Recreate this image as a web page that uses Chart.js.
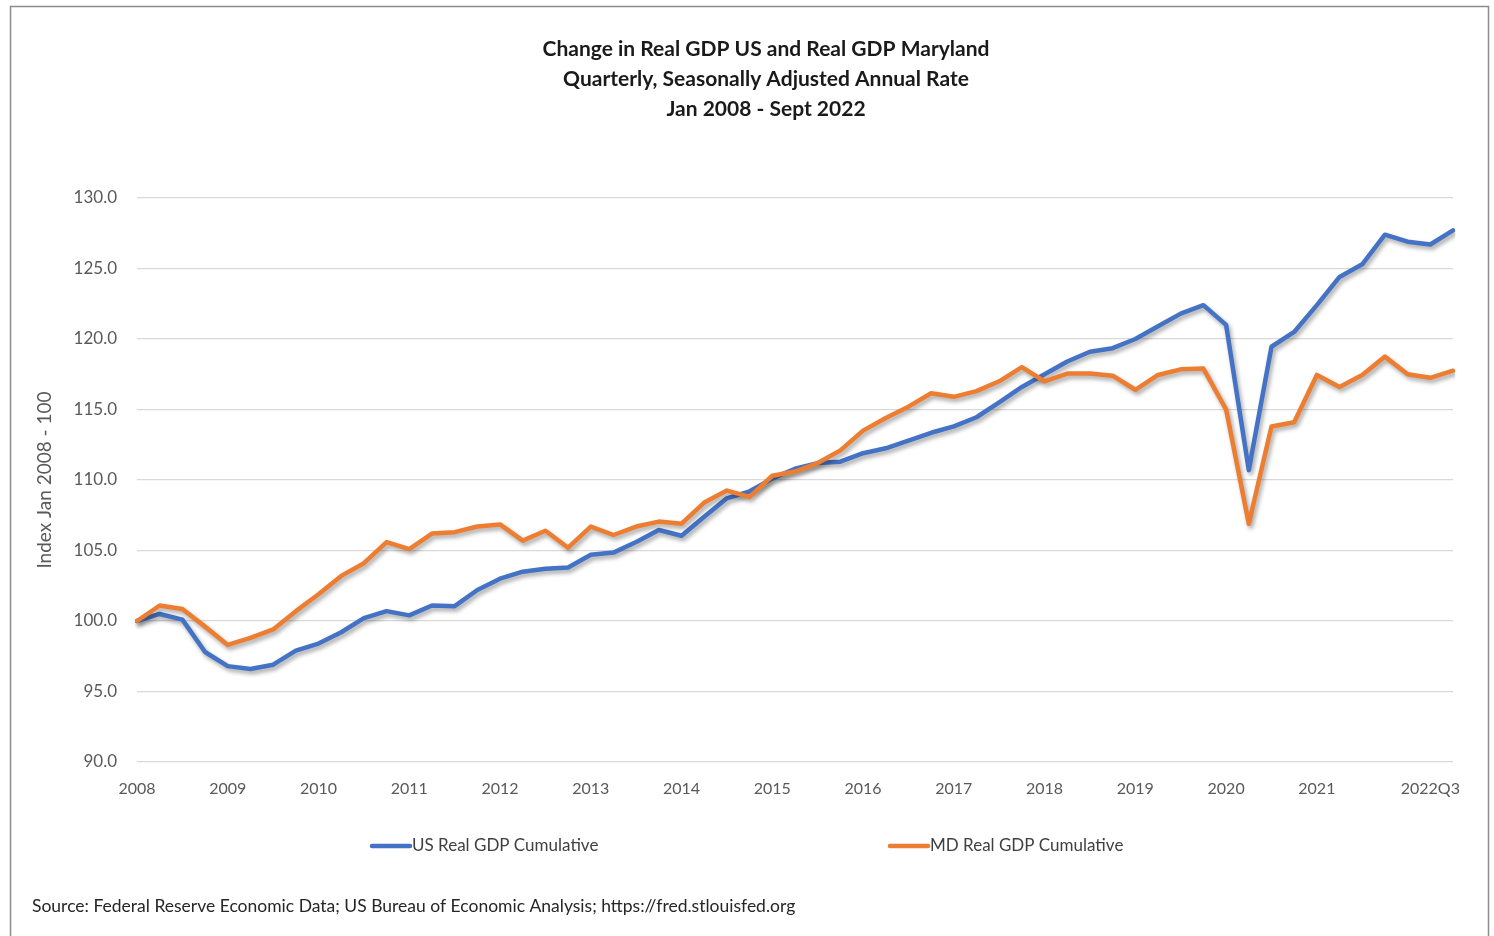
<!DOCTYPE html>
<html>
<head>
<meta charset="utf-8">
<title>Change in Real GDP US and Real GDP Maryland</title>
<script src="https://cdn.jsdelivr.net/npm/chart.js@4.4.1/dist/chart.umd.min.js"></script>
<style>
    html, body { margin: 0; padding: 0; background: #ffffff; overflow: hidden; }
    #wrap { width: 1494px; height: 936px; }
</style>
</head>
<body>
<div id="wrap"><canvas id="gdpChart" width="1494" height="936"></canvas></div>
<script>
// Quarterly categories, 2008Q1 - 2022Q3
const quarters = [
    '2008Q1', '2008Q2', '2008Q3', '2008Q4', '2009Q1', '2009Q2', '2009Q3', '2009Q4',
    '2010Q1', '2010Q2', '2010Q3', '2010Q4', '2011Q1', '2011Q2', '2011Q3', '2011Q4',
    '2012Q1', '2012Q2', '2012Q3', '2012Q4', '2013Q1', '2013Q2', '2013Q3', '2013Q4',
    '2014Q1', '2014Q2', '2014Q3', '2014Q4', '2015Q1', '2015Q2', '2015Q3', '2015Q4',
    '2016Q1', '2016Q2', '2016Q3', '2016Q4', '2017Q1', '2017Q2', '2017Q3', '2017Q4',
    '2018Q1', '2018Q2', '2018Q3', '2018Q4', '2019Q1', '2019Q2', '2019Q3', '2019Q4',
    '2020Q1', '2020Q2', '2020Q3', '2020Q4', '2021Q1', '2021Q2', '2021Q3', '2021Q4',
    '2022Q1', '2022Q2', '2022Q3'
];

// Index, Jan 2008 = 100
const usGdp = [
    100.0, 100.5, 100.1, 97.8, 96.8, 96.6, 96.9, 97.9,
    98.4, 99.2, 100.2, 100.7, 100.4, 101.1, 101.05, 102.2,
    103.0, 103.5, 103.7, 103.8, 104.7, 104.85, 105.6, 106.45,
    106.05, 107.4, 108.7, 109.2, 110.1, 110.8, 111.2, 111.3,
    111.9, 112.25, 112.8, 113.35, 113.8, 114.45, 115.5, 116.6,
    117.5, 118.4, 119.1, 119.35, 120.0, 120.9, 121.8, 122.4,
    121.0, 110.7, 119.45, 120.5, 122.4, 124.4, 125.3, 127.4,
    126.9, 126.7, 127.7
];

const mdGdp = [
    100.0, 101.1, 100.85, 99.6, 98.3, 98.8, 99.4, 100.7,
    101.9, 103.2, 104.1, 105.6, 105.1, 106.2, 106.3, 106.7,
    106.85, 105.7, 106.4, 105.2, 106.7, 106.1, 106.7, 107.05,
    106.9, 108.4, 109.25, 108.8, 110.3, 110.6, 111.2, 112.1,
    113.5, 114.4, 115.2, 116.15, 115.9, 116.3, 117.0, 118.0,
    117.0, 117.55, 117.55, 117.4, 116.4, 117.45, 117.85, 117.9,
    115.0, 106.9, 113.8, 114.1, 117.45, 116.6, 117.45, 118.75,
    117.5, 117.25, 117.75
];

const titleLines = [
    'Change in Real GDP US and Real GDP Maryland',
    'Quarterly, Seasonally Adjusted Annual Rate',
    'Jan 2008 - Sept 2022'
];
const yAxisTitle = 'Index Jan 2008 - 100';
const lastTickLabel = '2022Q3';
const sourceText = 'Source: Federal Reserve Economic Data; US Bureau of Economic Analysis; https://fred.stlouisfed.org';

const BLUE = '#4472C4';
const ORANGE = '#ED7D31';
const FONT = 'Lato, "Open Sans", sans-serif';

// drop shadow under the lines, like the office chart
const lineShadow = {
    id: 'lineShadow',
    beforeDatasetDraw(chart) {
        const ctx = chart.ctx;
        ctx.save();
        ctx.shadowColor = 'rgba(0, 0, 0, 0.35)';
        ctx.shadowBlur = 4;
        ctx.shadowOffsetX = 2;
        ctx.shadowOffsetY = 3;
    },
    afterDatasetDraw(chart) {
        chart.ctx.restore();
    }
};

// frame, title, legend and source note
const frameAndNotes = {
    id: 'frameAndNotes',
    afterDraw(chart) {
        const ctx = chart.ctx;
        ctx.save();
        ctx.strokeStyle = '#8c8c8c';
        ctx.lineWidth = 1.5;
        ctx.strokeRect(10.5, 6.5, 1478, 1000);

        // title (centred a bit right of the page middle, as in the original)
        ctx.font = 'bold 21px ' + FONT;
        ctx.fillStyle = '#1a1a1a';
        ctx.textAlign = 'center';
        ctx.textBaseline = 'middle';
        titleLines.forEach(function (line, i) {
            ctx.fillText(line, 766, 49 + i * 30);
        });

        // legend, spread out like the original
        const items = [
            {ds: chart.data.datasets[0], x: 370},
            {ds: chart.data.datasets[1], x: 888}
        ];
        const ly = 846;
        ctx.font = '17px ' + FONT;
        ctx.textAlign = 'left';
        items.forEach(function (it) {
            ctx.strokeStyle = it.ds.borderColor;
            ctx.lineWidth = 4.5;
            ctx.lineCap = 'round';
            ctx.beginPath();
            ctx.moveTo(it.x + 2, ly);
            ctx.lineTo(it.x + 40, ly);
            ctx.stroke();
            ctx.fillStyle = '#404040';
            ctx.fillText(it.ds.label, it.x + 42, ly);
        });

        ctx.font = '17.5px ' + FONT;
        ctx.fillStyle = '#262626';
        ctx.fillText(sourceText, 32, 906);
        ctx.restore();
    }
};

const ctx = document.getElementById('gdpChart').getContext('2d');
const gdpChart = new Chart(ctx, {
    type: 'line',
    data: {
        labels: quarters,
        datasets: [
            {
                label: 'US Real GDP Cumulative',
                data: usGdp,
                borderColor: BLUE,
                backgroundColor: BLUE,
                borderWidth: 4.5,
                pointRadius: 0,
                tension: 0,
                borderJoinStyle: 'round',
                borderCapStyle: 'round',
                order: 1
            },
            {
                label: 'MD Real GDP Cumulative',
                data: mdGdp,
                borderColor: ORANGE,
                backgroundColor: ORANGE,
                borderWidth: 4.5,
                pointRadius: 0,
                tension: 0,
                borderJoinStyle: 'round',
                borderCapStyle: 'round',
                order: 0
            }
        ]
    },
    options: {
        responsive: false,
        animation: false,
        layout: {padding: {left: 10, right: 41, top: 198, bottom: 0}},
        plugins: {
            legend: {display: false},
            tooltip: {enabled: false},
            title: {display: false}
        },
        scales: {
            x: {
                grid: {display: false},
                border: {display: false},
                ticks: {
                    autoSkip: false,
                    maxRotation: 0,
                    padding: 9,
                    color: '#595959',
                    font: {family: FONT, size: 16},
                    callback: function (val, index) {
                        const q = quarters[index];
                        if (index === quarters.length - 2) return lastTickLabel;
                        if (q.endsWith('Q1') && index < quarters.length - 3) return q.slice(0, 4);
                        return '';
                    }
                },
                afterFit: function (scale) { scale.height = 174; }
            },
            y: {
                min: 90,
                max: 130,
                grid: {color: '#d9d9d9', lineWidth: 1.3, drawTicks: false},
                border: {display: false},
                ticks: {
                    stepSize: 5,
                    padding: 20,
                    color: '#595959',
                    font: {family: FONT, size: 17},
                    callback: function (v) { return v.toFixed(1); }
                },
                title: {
                    display: true,
                    text: yAxisTitle,
                    color: '#595959',
                    font: {family: FONT, size: 19},
                    padding: {top: 23, bottom: 0}
                },
                afterFit: function (scale) { scale.width = 127; }
            }
        }
    },
    plugins: [lineShadow, frameAndNotes]
});
</script>
</body>
</html>
